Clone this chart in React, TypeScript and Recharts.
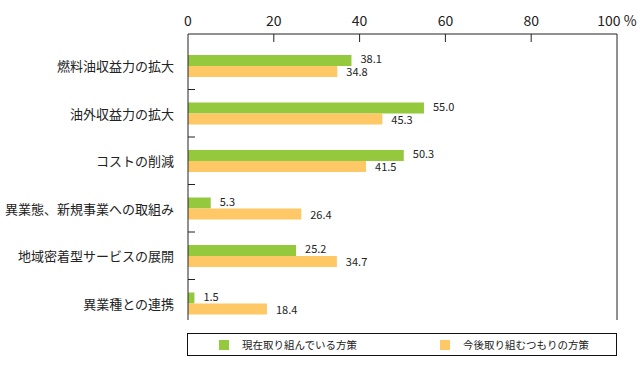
import {
  BarChart,
  Bar,
  XAxis,
  YAxis,
  LabelList,
  ReferenceLine,
} from "recharts";

const categories = [
  "燃料油収益力の拡大",
  "油外収益力の拡大",
  "コストの削減",
  "異業態、新規事業への取組み",
  "地域密着型サービスの展開",
  "異業種との連携",
];
const currentValues = [38.1, 55.0, 50.3, 5.3, 25.2, 1.5];
const futureValues = [34.8, 45.3, 41.5, 26.4, 34.7, 18.4];
const xTicks = [0, 20, 40, 60, 80, 100];
const seriesNames = ["現在取り組んでいる方策", "今後取り組むつもりの方策"];

const GREEN = "#94C83D";
const ORANGE = "#FDC865";
const FONT = "'Noto Sans CJK JP', 'Noto Sans', sans-serif";

const PLOT_LEFT = 188;
const PLOT_TOP = 34;

const data = categories.map((name, i) => ({
  name,
  current: currentValues[i],
  future: futureValues[i],
}));

const XTick = (props: any) => {
  const { x, payload } = props;
  const v = payload.value;
  return (
    <g>
      <text
        x={x}
        y={PLOT_TOP - 14}
        textAnchor="middle"
        dominantBaseline="central"
        fontSize={14}
        fill="#222"
        fontFamily={FONT}
      >
        {v === 100 ? "100 %" : v}
      </text>
      {v !== 0 && v !== 100 && (
        <line x1={x} x2={x} y1={PLOT_TOP} y2={PLOT_TOP + 8} stroke="#222" />
      )}
    </g>
  );
};

const YTick = (props: any) => {
  const { y, payload } = props;
  const half = payload.offset ?? 23.75;
  return (
    <g>
      <text
        x={PLOT_LEFT - 14}
        y={y}
        textAnchor="end"
        dominantBaseline="central"
        fontSize={13}
        fill="#222"
        fontFamily={FONT}
      >
        {payload.value}
      </text>
      {payload.index > 0 && (
        <line
          x1={PLOT_LEFT}
          x2={PLOT_LEFT + 7}
          y1={y - half}
          y2={y - half}
          stroke="#222"
        />
      )}
    </g>
  );
};

const fmt = (v: any) => Number(v).toFixed(1);

export default function App() {
  return (
    <div style={{ position: "absolute", left: 0, top: 0, width: 640, height: 372, background: "#fff" }}>
      <BarChart
        width={640}
        height={372}
        data={data}
        layout="vertical"
        barSize={11}
        barGap={0}
        margin={{ top: PLOT_TOP - 30, right: 23, bottom: 52, left: 8 }}
      >
        <XAxis
          type="number"
          orientation="top"
          domain={[0, 100]}
          ticks={xTicks}
          height={30}
          axisLine={{ stroke: "#222" }}
          tickLine={false}
          tick={<XTick />}
          interval={0}
        />
        <XAxis
          xAxisId="bottom"
          type="number"
          orientation="bottom"
          domain={[0, 100]}
          height={0}
          tick={false}
          tickLine={false}
          axisLine={{ stroke: "#777", strokeWidth: 2 }}
        />
        <YAxis
          type="category"
          dataKey="name"
          width={180}
          axisLine={{ stroke: "#222" }}
          tickLine={false}
          tick={<YTick />}
          interval={0}
          padding={{ top: 8, bottom: -7 }}
        />
        <ReferenceLine x={100} stroke="#222" />
        <Bar dataKey="current" name={seriesNames[0]} fill={GREEN} isAnimationActive={false}>
          <LabelList
            dataKey="current"
            position="right"
            offset={9}
            formatter={fmt}
            fontSize={11}
            dy={-1}
            fill="#222"
            fontFamily={FONT}
          />
        </Bar>
        <Bar dataKey="future" name={seriesNames[1]} fill={ORANGE} isAnimationActive={false}>
          <LabelList
            dataKey="future"
            position="right"
            offset={9}
            formatter={fmt}
            fontSize={11}
            dy={1}
            fill="#222"
            fontFamily={FONT}
          />
        </Bar>
      </BarChart>
      <div
        style={{
          position: "absolute",
          left: 187,
          top: 333,
          width: 428,
          height: 21,
          border: "1px solid #111",
          fontFamily: FONT,
          fontSize: 10.5,
          color: "#222",
        }}
      >
        {seriesNames.map((n, i) => (
          <div
            key={n}
            style={{
              position: "absolute",
              left: i === 0 ? 31 : 252,
              top: 0,
              height: 21,
              display: "flex",
              alignItems: "center",
              whiteSpace: "nowrap",
            }}
          >
            <span
              style={{
                display: "inline-block",
                width: 10,
                height: 10,
                background: i === 0 ? GREEN : ORANGE,
                marginRight: 13,
              }}
            />
            {n}
          </div>
        ))}
      </div>
    </div>
  );
}
